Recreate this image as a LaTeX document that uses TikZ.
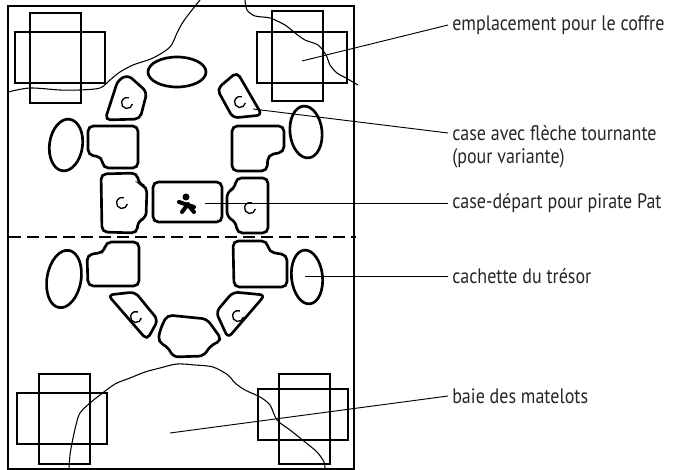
\documentclass[tikz,border=0pt]{standalone}
\usepackage{fontspec}
\setmainfont{PT Sans}[FakeStretch=0.86]
\usetikzlibrary{positioning}
\definecolor{labelgrey}{RGB}{38,38,38}

\begin{document}
\begin{tikzpicture}[x=0.75pt,y=-0.75pt,
    stone/.style={line width=2pt,rounded corners=4pt},
    chest/.style={line width=1.9pt},
    coast/.style={line width=0.8pt},
    leader/.style={line width=0.7pt},
    turn/.style={line width=1pt},
    lbl/.style={anchor=west,inner sep=3pt,text=labelgrey,font=\fontsize{15.7}{18}\selectfont}]
  \useasboundingbox (0,0) rectangle (677,470);
  % board:
  \draw[line width=0.9pt] (8,6) rectangle (354,469);
  \draw[line width=1pt,dash pattern=on 9pt off 4.5pt] (9,237) -- (356,237);
  % coast lines:
  \draw[coast] plot[smooth] coordinates {(8,92) (30,88) (60,90) (80,90) (100,88) (110,80) (120,72)
     (133,65) (153,58) (170,47) (177,33) (183,22) (192,10) (200,0)};
  \draw[coast] plot[smooth] coordinates {(245,0) (247,10) (255,16) (270,18) (285,25) (295,33)
     (305,40) (318,45) (326,55) (330,65) (337,73) (346,78) (358,85)};
  \draw[coast] plot[smooth] coordinates {(69,469) (70,455) (72,443) (76,425) (80,413) (90,403)
     (100,395) (115,384) (130,378) (145,372) (160,368) (177,364) (195,365) (213,367) (228,375)
     (235,383) (245,390) (260,397) (270,405) (277,420) (290,430) (305,442) (317,452) (324,462) (325,469)};
  % chests:
  \foreach \vx/\vy/\hx/\hy in {30/13/15/32, 272/11/257/32, 39/374/17/393, 279/374/258/389}{
    \draw[chest] (\vx,\vy) rectangle ++(51,90);
    \draw[chest] (\hx,\hy) rectangle ++(90,51);
  }
  % hiding places:
  \draw[stone] (177,72) ellipse (29 and 15);
  \draw[stone,rotate around={-8:(66,145)}] (66,145) ellipse (16.5 and 26);
  \draw[stone,rotate around={6:(306,132)}] (306,132) ellipse (16 and 26);
  \draw[stone,rotate around={-10:(64,279)}] (64,279) ellipse (17 and 29);
  \draw[stone,rotate around={6:(307,277)}] (307,277) ellipse (15.5 and 27);
  % squares, upper half:
  \draw[stone] (118,80) -- (128,75) -- (147,92) -- (140,119) -- (105,120) -- cycle;
  \draw[stone] (237,72) -- (262,115) -- (233,118) -- (217,89) -- cycle;
  \draw[stone] (88,126) -- (138,126) -- (138,168) -- (103,168) -- (102,157) -- (88,155) -- cycle;
  \draw[stone] (232,126) -- (284,126) -- (284,152) -- (268,155) -- (267,171) -- (232,171) -- cycle;
  \draw[stone] (101,174) -- (137,173) -- (139,184) -- (147,187) -- (146,218) -- (138,221)
     -- (137,233) -- (102,232) -- cycle;
  \draw[stone] (153,182) rectangle (222,222);
  \draw[stone] (236,178) -- (268,178) -- (268,233) -- (237,233) -- (236,222) -- (227,217)
     -- (227,192) -- (235,188) -- cycle;
  % squares, lower half:
  \draw[stone] (106,242) -- (139,242) -- (139,286) -- (88,286) -- (87,255) -- (104,252) -- cycle;
  \draw[stone] (233,241) -- (267,241) -- (269,252) -- (287,255) -- (287,287) -- (234,287) -- cycle;
  \draw[stone] (108,295) -- (135,292) -- (158,320) -- (147,340) -- cycle;
  \draw[stone] (233,292) -- (265,295) -- (228,338) -- (216,312) -- cycle;
  \draw[stone] (167,315) -- (207,319) -- (222,340) -- (210,346) -- (204,356) -- (173,357)
     -- (168,347) -- (158,342) -- (160,330) -- cycle;
  % turning arrows:
  \foreach \x/\y in {127/103, 240/102, 122/203, 250/208, 136/317, 238/316}
     \draw[turn] (\x,\y) ++(10:5.5) arc[start angle=10,end angle=290,radius=5.5];
  % pirate Pat:
  \fill (186,197) circle (3.5);
  \draw[line width=3pt,line cap=round] (179,202) -- (194,207) (188,204) -- (182,212) (188,205) -- (194,212);
  % labels:
  \node[lbl] (coffre) at (448,25) {emplacement pour le coffre};
  \node[lbl] (fleche) at (448,133) {case avec flèche tournante};
  \node[lbl] (variante) at (448,158) {(pour variante)};
  \node[lbl] (depart) at (448,203) {case-départ pour pirate Pat};
  \node[lbl] (tresor) at (448,276) {cachette du trésor};
  \node[lbl] (baie) at (448,396) {baie des matelots};
  \coordinate (coffreEnd) at (302,61);
  \coordinate (flecheEnd) at (253,109);
  \coordinate (departEnd) at (205,203);
  \coordinate (tresorEnd) at (305,276);
  \coordinate (baieEnd) at (170,433);
  \draw[leader] (coffreEnd) -- (coffre.west);
  \draw[leader] (flecheEnd) -- (fleche.west);
  \draw[leader] (departEnd) -- (depart.west);
  \draw[leader] (tresorEnd) -- (tresor.west);
  \draw[leader] (baieEnd) -- (baie.west);
\end{tikzpicture}
\end{document}
